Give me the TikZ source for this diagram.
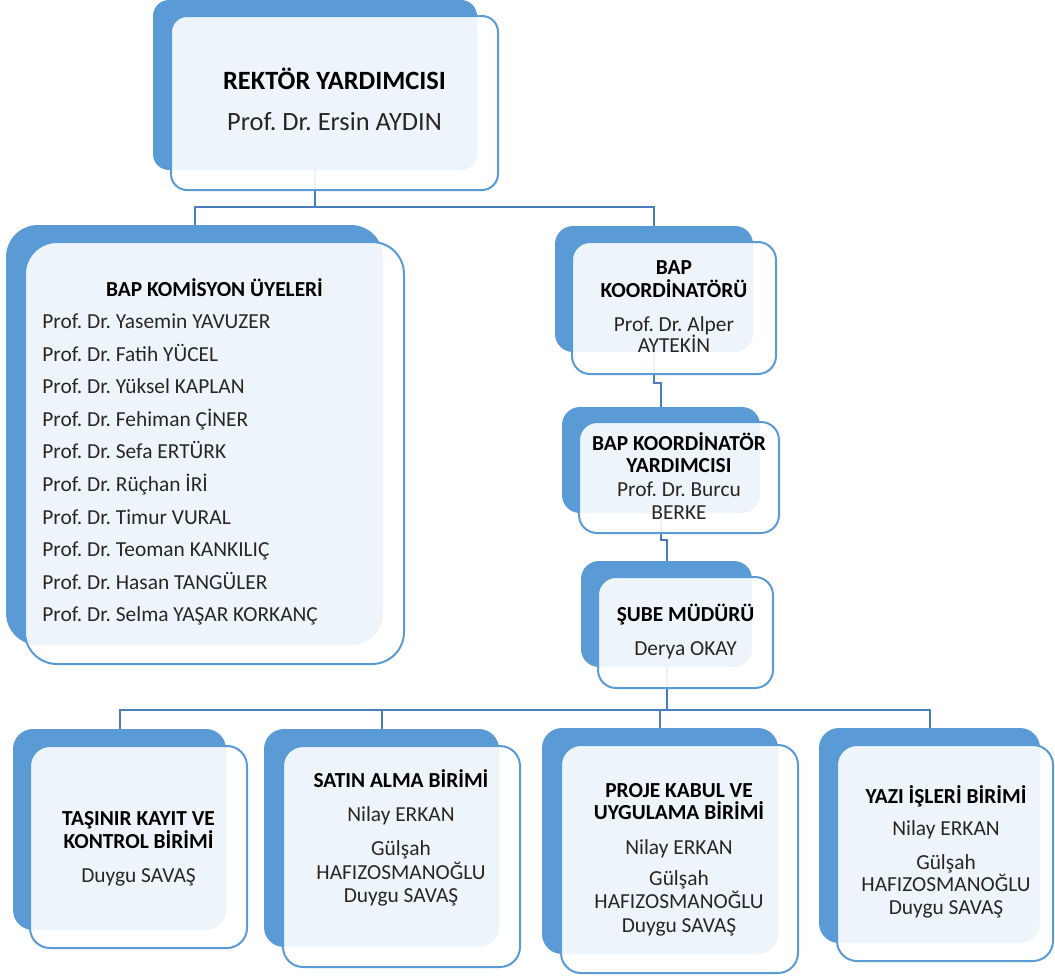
\documentclass[tikz,border=0pt]{standalone}
\usepackage{fontspec}
\setmainfont{Carlito}
\frenchspacing
\usepackage{tikz}
\usetikzlibrary{fit,backgrounds}
\definecolor{smart-blue}{RGB}{91,155,213}
\definecolor{link-blue}{RGB}{74,126,187}
\tikzstyle{darkbox}=[fill=smart-blue, inner sep=0pt]
\tikzstyle{lightbox}=[fill=white, fill opacity=0.9, draw=smart-blue, line width=1pt, inner sep=0pt]
\tikzstyle{link}=[draw=link-blue, line width=1pt]
\tikzstyle{txt}=[anchor=base, inner sep=0pt, text=black!85, font=\fontsize{10.7}{13}\selectfont]
\tikzstyle{head}=[txt, text=black, font=\fontsize{10.7}{13}\selectfont\bfseries]
\newcommand{\unitBox}[6]{
	\node[darkbox, rounded corners=#6, fit={#2 #3}] (#1-bg) {};
	\node[lightbox, rounded corners=#6, fit={#4 #5}] (#1) {};
}

\begin{document}
\begin{tikzpicture}[x=0.5pt,y=-0.5pt]
	\useasboundingbox (0,0) rectangle (1055,975);
	\unitBox{rektor}{(153,0)}{(477,170)}{(171,16)}{(498,190)}{8pt}
	\unitBox{komisyon}{(6,225)}{(383,645)}{(25,242)}{(404,664)}{16pt}
	\unitBox{koord}{(555,226)}{(753,352)}{(572,242)}{(776,374)}{9pt}
	\unitBox{yard}{(562,407)}{(760,513)}{(579,422)}{(779,533)}{9pt}
	\unitBox{sube}{(581,561)}{(752,667)}{(598,577)}{(773,688)}{9pt}
	\unitBox{tasinir}{(13,729)}{(226,930)}{(30,746)}{(247,948)}{10pt}
	\unitBox{satin}{(264,729)}{(499,947)}{(283,746)}{(520,967)}{10pt}
	\unitBox{proje}{(542,728)}{(778,954)}{(561,745)}{(798,973)}{10pt}
	\unitBox{yazi}{(819,728)}{(1040,943)}{(837,745)}{(1053,961)}{10pt}
	\begin{scope}[on background layer]
		\draw[link] (rektor-bg.south) -- ++(0,37) -| (komisyon-bg.north);
		\draw[link] (rektor-bg.south) -- ++(0,37) -| (koord-bg.north);
		\draw[link] (koord-bg.south) -- ++(0,31) -| (yard-bg.north);
		\draw[link] (yard-bg.south) -- ++(0,27) -| (sube-bg.north);
		\draw[link] (sube-bg.south) -- ++(0,43) -| (tasinir-bg.north);
		\draw[link] (sube-bg.south) -- ++(0,43) -| (satin-bg.north);
		\draw[link] (sube-bg.south) -- ++(0,43) -| (proje-bg.north);
		\draw[link] (sube-bg.south) -- ++(0,43) -| (yazi-bg.north);
	\end{scope}
	% rektor yardimcisi
	\node[head, font=\fontsize{13.2}{16}\selectfont\bfseries] (rektor-t1) at (334.5,89) {REKTÖR YARDIMCISI};
	\node[txt, font=\fontsize{13.2}{16}\selectfont] (rektor-t2) at (334.5,130) {Prof. Dr. Ersin AYDIN};
	% komisyon
	\node[head] (komisyon-t1) at (214.5,296) {BAP KOMİSYON ÜYELERİ};
	\foreach \uye [count=\i from 0] in {Prof. Dr. Yasemin YAVUZER, Prof. Dr. Fatih YÜCEL,
		Prof. Dr. Yüksel KAPLAN, Prof. Dr. Fehiman ÇİNER, Prof. Dr. Sefa ERTÜRK,
		Prof. Dr. Rüçhan İRİ, Prof. Dr. Timur VURAL, Prof. Dr. Teoman KANKILIÇ,
		Prof. Dr. Hasan TANGÜLER, Prof. Dr. Selma YAŞAR KORKANÇ}
		\node[txt, anchor=base west] (uye\i) at (42,328.5+32.6*\i) {\uye};
	% koordinator
	\node[head] (koord-t1) at (674,274) {BAP};
	\node[head] (koord-t2) at (674,297.3) {KOORDİNATÖRÜ};
	\node[txt] (koord-t3) at (674,331.7) {Prof. Dr. Alper};
	\node[txt] (koord-t4) at (674,352.7) {AYTEKİN};
	\node[head] (yard-t1) at (679,450) {BAP KOORDİNATÖR};
	\node[head] (yard-t2) at (679,472.7) {YARDIMCISI};
	\node[txt] (yard-t3) at (679,496) {Prof. Dr. Burcu};
	\node[txt] (yard-t4) at (679,519.3) {BERKE};
	\node[head] (sube-t1) at (685.5,621.7) {ŞUBE MÜDÜRÜ};
	\node[txt] (sube-t2) at (685.5,655) {Derya OKAY};
	% birimler
	\node[head] (tasinir-t1) at (138.5,825.7) {TAŞINIR KAYIT VE};
	\node[head] (tasinir-t2) at (138.5,848.8) {KONTROL BİRİMİ};
	\node[txt] (tasinir-t3) at (138.5,882.5) {Duygu SAVAŞ};
	\node[head] (satin-t1) at (401,787.8) {SATIN ALMA BİRİMİ};
	\node[txt] (satin-t2) at (401,821.2) {Nilay ERKAN};
	\node[txt] (satin-t3) at (401,855) {Gülşah};
	\node[txt] (satin-t4) at (401,879) {HAFIZOSMANOĞLU};
	\node[txt] (satin-t5) at (401,902.5) {Duygu SAVAŞ};
	\node[head] (proje-t1) at (679,797) {PROJE KABUL VE};
	\node[head] (proje-t2) at (679,819.9) {UYGULAMA BİRİMİ};
	\node[txt] (proje-t3) at (679,854) {Nilay ERKAN};
	\node[txt] (proje-t4) at (679,885.8) {Gülşah};
	\node[txt] (proje-t5) at (679,908.2) {HAFIZOSMANOĞLU};
	\node[txt] (proje-t6) at (679,932.7) {Duygu SAVAŞ};
	\node[head] (yazi-t1) at (946,803) {YAZI İŞLERİ BİRİMİ};
	\node[txt] (yazi-t2) at (946,835.6) {Nilay ERKAN};
	\node[txt] (yazi-t3) at (946,869) {Gülşah};
	\node[txt] (yazi-t4) at (946,891.5) {HAFIZOSMANOĞLU};
	\node[txt] (yazi-t5) at (946,914.3) {Duygu SAVAŞ};
\end{tikzpicture}
\end{document}
